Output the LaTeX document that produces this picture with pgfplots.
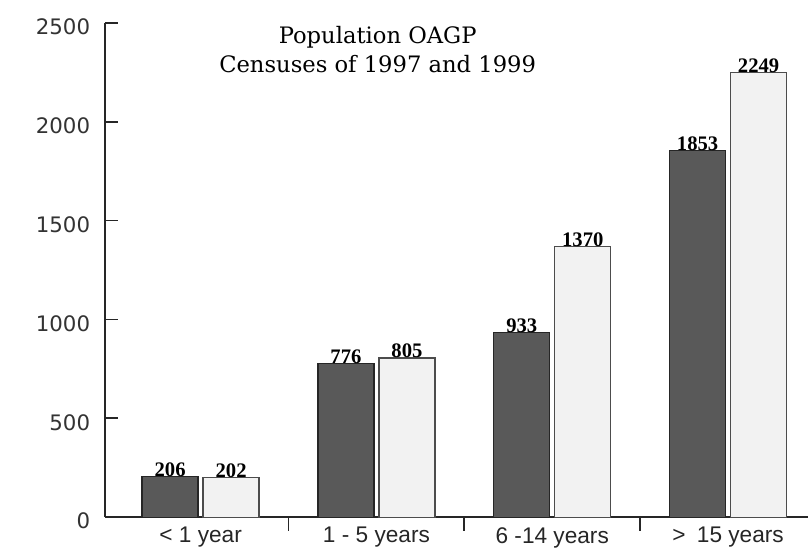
\documentclass[border=0pt]{standalone}
\usepackage{pgfplots}
\pgfplotsset{compat=1.18}
\usepackage{fontspec}
\newfontfamily\labsans{Liberation Sans}
\newfontfamily\ticksans{DejaVu Sans}
\newfontfamily\titleserif{DejaVu Serif}
\newfontfamily\valserif{Liberation Serif}
\begin{document}
\begin{tikzpicture}
\begin{axis}[
  scale only axis, width=528pt, height=371.25pt,
  xmin=-0.545, xmax=3.455, ymin=0, ymax=2500,
  clip=false,
  axis x line=bottom, axis y line=left,
  axis line style={-, line width=1.4pt, black!85},
  ytick={0,500,1000,1500,2000,2500},
  yticklabels={0,500,1000,1500,2000,2500},
  yticklabel style={font=\ticksans\fontsize{16}{18}\selectfont, text=black!80, xshift=-7.5pt, yshift=-3pt},
  xtick={0.5,1.5,2.5}, xticklabels={},
  extra x ticks={0,1,2,3},
  extra x tick labels={{\textless{} 1 year},{1 - 5 years},{6 -14 years},{\textgreater{}\enspace 15 years}},
  extra x tick style={major tick length=0pt, xticklabel style={font=\labsans\fontsize{17}{19}\selectfont, text=black!85, yshift=-4pt}},
  tick align=inside,
  major tick length=10pt,
  tick style={line width=1.4pt, black!85},
  title={Population OAGP\\Censuses of 1997 and 1999},
  title style={at={(rel axis cs:0.388,0.93)}, anchor=center, align=center, font=\titleserif\fontsize{17}{22}\selectfont, text=black},
  ybar, bar width=42pt,
  nodes near coords,
  every node near coord/.append style={/pgf/number format/1000 sep={}, /pgf/number format/assume math mode=true},
  nodes near coords style={font=\valserif\bfseries\fontsize{15.5}{17}\selectfont, anchor=south, inner sep=0pt, yshift=-0.5pt},
]
\addplot[fill=black!65, draw=black!85, line width=1pt, bar shift=-22.9pt]
  coordinates {(0,206) (1,776) (2,933) (3,1853)};
\addplot[fill=black!5, draw=black!70, line width=1pt, bar shift=22.9pt]
  coordinates {(0,202) (1,805) (2,1370) (3,2249)};
\path (rel axis cs:-0.149,-0.0667) rectangle (rel axis cs:1,1.046);
\end{axis}
\end{tikzpicture}
\end{document}
